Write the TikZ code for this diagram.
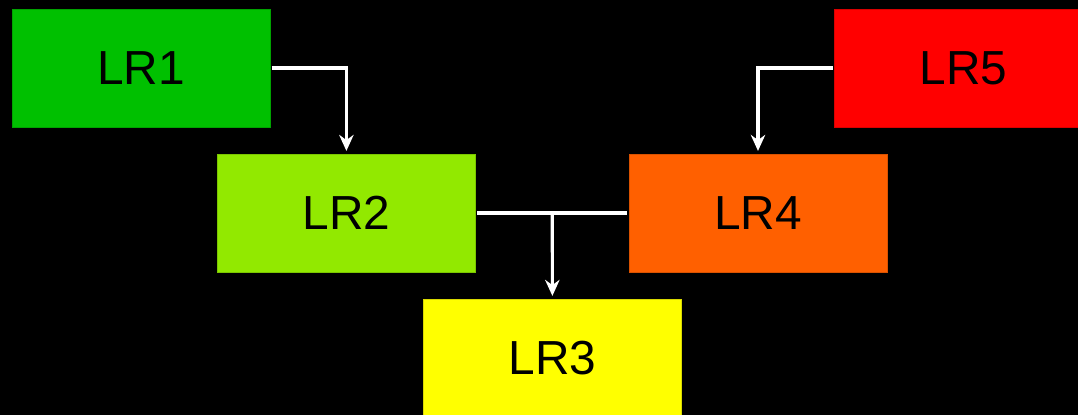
\documentclass[tikz,border=0pt]{standalone}
\usepackage{fontspec}
\setmainfont{Liberation Sans}
\usetikzlibrary{arrows.meta}
\definecolor{grass}{RGB}{0,192,0}
\definecolor{sprout}{RGB}{146,233,0}
\definecolor{lemon}{RGB}{255,255,0}
\definecolor{tangerine}{RGB}{255,96,0}
\definecolor{scarlet}{RGB}{255,0,0}
\tikzset{
  >={Stealth[length=4mm,width=3.6mm]},
  lr/.style={draw=#1!85!black,fill=#1,minimum width=6.45cm,minimum height=2.95cm,
    inner sep=0pt,font=\fontsize{34}{40}\selectfont},
  lr/.default=grass,
  link/.style={draw=white,line width=2.2pt},
}
\begin{document}
\begin{tikzpicture}
        \fill[black] (0,0) rectangle (26.95,-10.375);
        \useasboundingbox (0,0) rectangle (26.95,-10.375);
        \clip (0,0) rectangle (26.95,-10.375);
        \foreach \t/\c/\x/\y [count=\i] in {LR1/grass/3.525/-1.7,LR2/sprout/8.66/-5.325,LR3/lemon/13.81/-8.95,LR4/tangerine/18.95/-5.325,LR5/scarlet/24.09/-1.7}{
          \node[lr=\c] (lr\i) at (\x,\y) {\t};
        }
        \draw[link,->,shorten <=1pt,shorten >=2pt] (lr1.east) -| (lr2.north);
        \draw[link,->,shorten <=1pt,shorten >=2pt] (lr5.west) -| (lr4.north);
        \draw[link,shorten <=1pt,shorten >=1pt] (lr2.east) -- coordinate (mid) (lr4.west);
        \draw[link,->,shorten >=2pt] (mid) -- (lr3.north);
      \end{tikzpicture}
\end{document}
